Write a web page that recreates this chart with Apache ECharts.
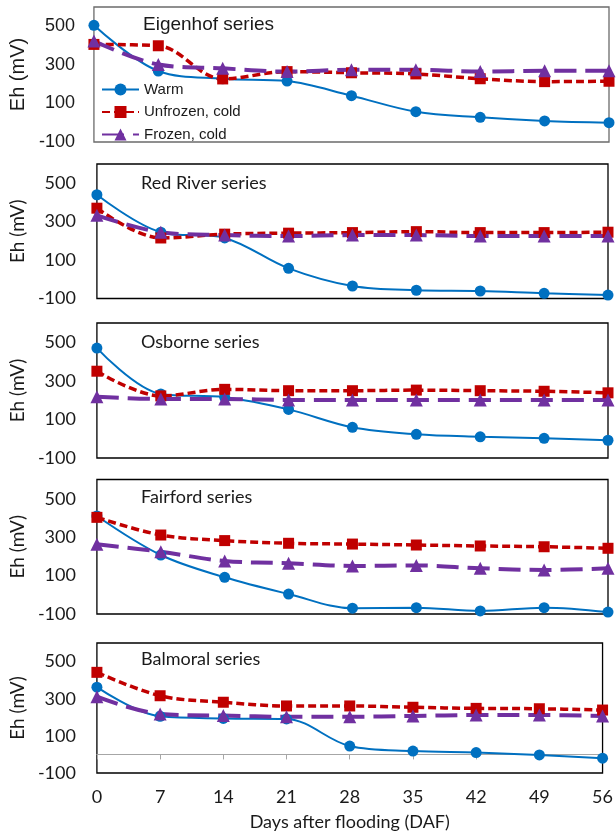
<!DOCTYPE html>
<html lang="en">

<head>
    <meta charset="UTF-8">
    <title>Eh after flooding</title>
    <style>
        html, body { margin: 0; padding: 0; background: #fff; }
    </style>
</head>

<body>
    <div id="main" style="width: 616px; height: 834px"></div>
    <script src="https://cdn.jsdelivr.net/npm/echarts@6/dist/echarts.min.js"></script>
    <script type="text/javascript">
        // days after flooding (x positions)
        var days = [0, 7, 14, 21, 28, 35, 42, 49, 56];
        var seriesNames = ['Warm', 'Unfrozen, cold', 'Frozen, cold'];
        var panelTitles = ['Eigenhof series', 'Red River series', 'Osborne series', 'Fairford series', 'Balmoral series'];

        // Eh (mV), one array per treatment per soil
        var eigenhofWarm = [505, 268, 228, 216, 140, 57, 28, 9, 0];
        var eigenhofUnfrozen = [406, 399, 227, 265, 259, 253, 228, 213, 215];
        var eigenhofFrozen = [424, 302, 282, 265, 275, 275, 265, 270, 270];

        var redRiverWarm = [440, 245, 215, 57, -35, -57, -61, -73, -82];
        var redRiverUnfrozen = [370, 215, 235, 240, 243, 248, 243, 243, 245];
        var redRiverFrozen = [333, 245, 230, 225, 230, 230, 225, 225, 225];

        var osborneWarm = [470, 232, 215, 152, 59, 23, 10, 2, -8];
        var osborneUnfrozen = [350, 222, 256, 249, 249, 252, 249, 246, 238];
        var osborneFrozen = [218, 206, 206, 201, 201, 201, 201, 201, 201];

        var fairfordWarm = [410, 207, 91, 4, -70, -67, -84, -67, -90];
        var fairfordUnfrozen = [403, 311, 282, 268, 264, 259, 254, 250, 242];
        var fairfordFrozen = [263, 224, 176, 164, 150, 153, 138, 129, 138];

        var balmoralWarm = [362, 205, 194, 191, 45, 18, 10, -3, -20];
        var balmoralUnfrozen = [442, 316, 281, 261, 261, 254, 248, 246, 239];
        var balmoralFrozen = [311, 218, 209, 203, 203, 207, 212, 212, 207];

        var panels = [
            [eigenhofWarm, eigenhofUnfrozen, eigenhofFrozen],
            [redRiverWarm, redRiverUnfrozen, redRiverFrozen],
            [osborneWarm, osborneUnfrozen, osborneFrozen],
            [fairfordWarm, fairfordUnfrozen, fairfordFrozen],
            [balmoralWarm, balmoralUnfrozen, balmoralFrozen]
        ];

        var myChart = echarts.init(document.getElementById('main'));

        // layout of the five stacked boxes
        var grids = [
            { left: 90, top: 7, width: 519, height: 135 },
            { left: 89, top: 164, width: 519, height: 134.5 },
            { left: 89, top: 323, width: 519, height: 135 },
            { left: 89, top: 479.5, width: 519, height: 134.5 },
            { left: 86, top: 643, width: 519, height: 130 }
        ];
        var titleTop = [15, 174, 333, 488, 650];

        var lineStyles = [
            { color: '#0070C0', width: 2, type: 'solid' },
            { color: '#C00000', width: 3.5, type: [8, 4] },
            { color: '#7030A0', width: 4, type: [22, 9] }
        ];
        var symbols = ['circle', 'rect', 'triangle'];
        var symbolSizes = [11, 11, 13];

        var grid = [], xAxis = [], yAxis = [], series = [], title = [];

        grids.forEach(function (g, p) {
            var first = p === 0;
            var font = first ? 'Liberation Sans' : 'Lato';
            grid.push({
                left: g.left, top: g.top, width: g.width, height: g.height,
                show: true,
                borderColor: first ? '#6b6b6b' : '#000',
                borderWidth: 1.3,
                containLabel: false
            });
            title.push({
                text: panelTitles[p],
                left: first ? 143 : 141,
                top: titleTop[p],
                padding: 0,
                textStyle: {
                    fontFamily: font,
                    fontSize: first ? 19 : 18,
                    fontWeight: 'normal',
                    color: '#1a1a1a'
                }
            });
            yAxis.push({
                gridIndex: p,
                type: 'value',
                min: -100,
                max: 600,
                interval: 200,
                name: 'Eh (mV)',
                nameLocation: 'middle',
                nameGap: first ? 63 : 64,
                nameTextStyle: { fontFamily: font, fontSize: first ? 20 : 19, color: '#1a1a1a' },
                axisLine: { show: false },
                axisTick: { show: false },
                splitLine: { show: false },
                axisLabel: {
                    showMaxLabel: false,
                    margin: first ? 19 : 21,
                    fontFamily: font,
                    fontSize: 18,
                    color: '#1a1a1a'
                }
            });
            xAxis.push({
                gridIndex: p,
                type: 'value',
                min: 0,
                max: 56,
                interval: 7,
                position: 'bottom',
                axisLine: p === 4 ? { onZero: true, lineStyle: { color: '#a6a6a6', width: 1.2 } } : { show: false },
                axisTick: p === 4 ? { show: true, length: 5, lineStyle: { color: '#a6a6a6' } } : { show: false },
                axisLabel: { show: false },
                splitLine: { show: false }
            });

            panels[p].forEach(function (vals, s) {
                series.push({
                    name: seriesNames[s],
                    type: 'line',
                    xAxisIndex: p,
                    yAxisIndex: p,
                    smooth: 0.35,
                    clip: false,
                    symbol: symbols[s],
                    symbolSize: symbolSizes[s],
                    itemStyle: { color: lineStyles[s].color },
                    lineStyle: lineStyles[s],
                    data: days.map(function (d, i) { return [d, vals[i]]; })
                });
            });
        });

        // bottom axis of the last box carries the day labels
        xAxis.push({
            gridIndex: 4,
            type: 'value',
            min: 0,
            max: 56,
            interval: 7,
            position: 'bottom',
            axisLine: { show: false, onZero: false },
            axisTick: { show: false },
            splitLine: { show: false },
            axisLabel: { margin: 15, fontFamily: 'Lato', fontSize: 18, color: '#1a1a1a' },
            name: 'Days after flooding (DAF)',
            nameLocation: 'middle',
            nameGap: 40,
            nameTextStyle: { fontFamily: 'Lato', fontSize: 18, color: '#1a1a1a' }
        });

        var option = {
            animation: false,
            title: title,
            grid: grid,
            xAxis: xAxis,
            yAxis: yAxis,
            legend: {
                data: seriesNames,
                orient: 'vertical',
                left: 101,
                top: 82,
                itemWidth: 37,
                itemHeight: 15,
                itemGap: 7.5,
                padding: 0,
                textStyle: { fontFamily: 'Liberation Sans', fontSize: 15, color: '#1a1a1a' }
            },
            series: series
        };
        myChart.setOption(option);
    </script>

</body>

</html>
